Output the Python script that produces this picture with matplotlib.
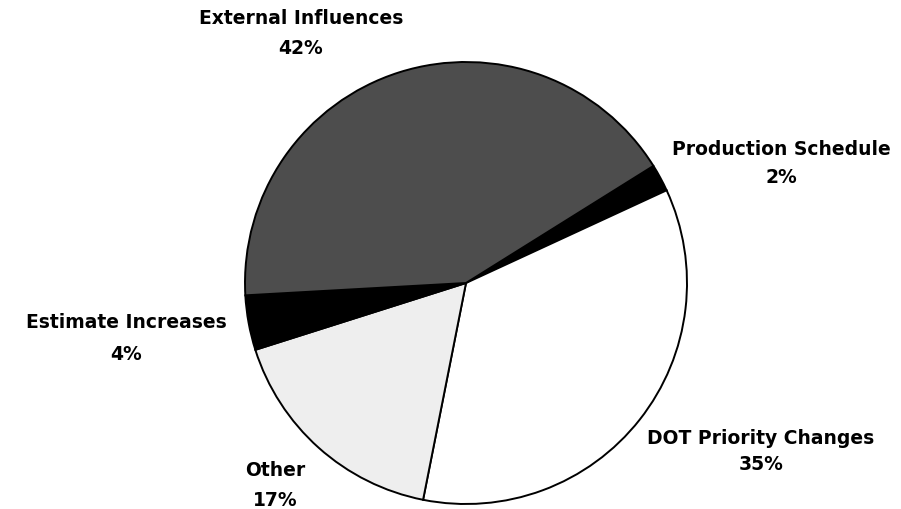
import matplotlib
matplotlib.use("Agg")
import matplotlib.pyplot as plt

# Shares of the causes, listed clockwise starting from the top-right wedge
categories = ["Production Schedule", "DOT Priority Changes", "Other",
              "Estimate Increases", "External Influences"]
shares = [2, 35, 17, 4, 42]
fills = ["#000000", "#ffffff", "#eeeeee", "#000000", "#4d4d4d"]

# Label anchor points (pixel coordinates, y measured from the bottom):
# (x, y of the name line, y of the percentage line)
label_pos = {
    "Production Schedule": (781, 360, 332),
    "DOT Priority Changes": (761, 71, 44),
    "Other": (275, 39, 9),
    "Estimate Increases": (126, 186, 154),
    "External Influences": (301, 491, 461),
}

W, H = 901, 509
fig = plt.figure(figsize=(W / 100, H / 100), dpi=100)
ax = fig.add_axes([0, 0, 1, 1])

ax.pie(shares, colors=fills, startangle=32, counterclock=False,
       center=(466, 226), radius=221,
       wedgeprops=dict(edgecolor="black", linewidth=1.4))

for name, pct in zip(categories, shares):
    x, y_name, y_pct = label_pos[name]
    ax.text(x, y_name, name, ha="center", va="center", fontsize=13.5,
            fontweight="bold", family="DejaVu Sans")
    ax.text(x, y_pct, f"{pct}%", ha="center", va="center", fontsize=13.5,
            fontweight="bold", family="DejaVu Sans")

ax.set_xlim(0, W)
ax.set_ylim(0, H)
ax.set_aspect("equal")
ax.axis("off")

fig.savefig("out.png", dpi=100, facecolor="white")
